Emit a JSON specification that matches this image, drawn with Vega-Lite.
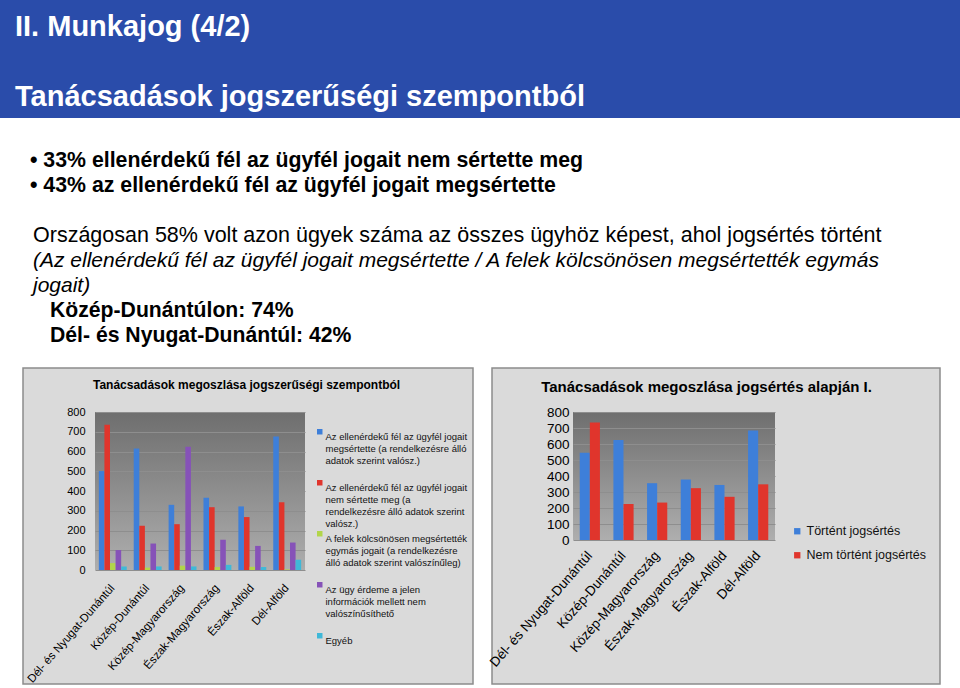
{
  "$schema": "https://vega.github.io/schema/vega-lite/v6.json",
  "padding": 0,
  "autosize": {"type": "pad"},
  "background": "white",
  "spacing": 0,
  "config": {
    "view": {"stroke": null},
    "font": "Liberation Sans",
    "style": {"guide-label": {"lineHeight": 12}}
  },
  "resolve": {"scale": {"color": "independent", "xOffset": "independent", "x": "independent", "y": "independent"}, "legend": {"color": "independent"}},
  "vconcat": [
    {
      "width": 960,
      "height": 118,
      "view": {"fill": "#2A4CAA", "stroke": null},
      "data": {"values": [
        {"line": 1, "text": "II. Munkajog (4/2)"},
        {"line": 2, "text": "Tanácsadások jogszerűségi szempontból"}
      ]},
      "mark": {"type": "text", "align": "left", "baseline": "alphabetic", "fontWeight": "bold", "fontSize": 29, "color": "white", "font": "Liberation Sans"},
      "encoding": {
        "x": {"value": 15},
        "y": {"field": "line", "type": "quantitative", "scale": {"domain": [0.486, 2.171], "reverse": true, "zero": false, "nice": false}, "axis": null},
        "text": {"field": "text"}
      }
    },
    {
      "width": 960,
      "height": 249,
      "data": {"values": [
        {"line": 1, "text": "• 33% ellenérdekű fél az ügyfél jogait nem sértette meg"},
        {"line": 2, "text": "• 43% az ellenérdekű fél az ügyfél jogait megsértette"},
        {"line": 4, "text": "Országosan 58% volt azon ügyek száma az összes ügyhöz képest, ahol jogsértés történt"},
        {"line": 5, "text": "(Az ellenérdekű fél az ügyfél jogait megsértette / A felek kölcsönösen megsértették egymás"},
        {"line": 6, "text": "jogait)"},
        {"line": 7, "text": "Közép-Dunántúlon: 74%"},
        {"line": 8, "text": "Dél- és Nyugat-Dunántúl: 42%"}
      ]},
      "encoding": {
        "y": {"field": "line", "type": "quantitative", "scale": {"domain": [-0.9545, 8.978], "reverse": true, "zero": false, "nice": false}, "axis": null},
        "text": {"field": "text"}
      },
      "layer": [
        {
          "transform": [{"filter": "datum.line <= 2"}],
          "mark": {"type": "text", "align": "left", "baseline": "alphabetic", "fontWeight": "bold", "fontSize": 21.3, "color": "black"},
          "encoding": {"x": {"value": 30}}
        },
        {
          "transform": [{"filter": "datum.line == 4"}],
          "mark": {"type": "text", "align": "left", "baseline": "alphabetic", "fontWeight": "normal", "fontSize": 21.5, "color": "black"},
          "encoding": {"x": {"value": 33}}
        },
        {
          "transform": [{"filter": "datum.line == 5 || datum.line == 6"}],
          "mark": {"type": "text", "align": "left", "baseline": "alphabetic", "fontStyle": "italic", "fontSize": 21, "color": "black"},
          "encoding": {"x": {"value": 33}}
        },
        {
          "transform": [{"filter": "datum.line >= 7"}],
          "mark": {"type": "text", "align": "left", "baseline": "alphabetic", "fontWeight": "bold", "fontSize": 21.2, "color": "black"},
          "encoding": {"x": {"value": 50}}
        }
      ]
    },
    {
      "concat": [
        {
          "spacing": 17,
          "hconcat": [
            {"width": 5, "height": 316, "data": {"values": []}, "mark": "point", "encoding": {}, "view": {"stroke": null}},
            {"width": 450, "height": 316, "data": {"values": []}, "mark": "point", "encoding": {}, "view": {"fill": "#DADADA", "stroke": "#8C8C8C", "strokeWidth": 1.5}},
            {"width": 448, "height": 316, "data": {"values": []}, "mark": "point", "encoding": {}, "view": {"fill": "#DADADA", "stroke": "#8C8C8C", "strokeWidth": 1.5}}
          ]
        },
        {
          "concat": [
            {"width": 6, "height": 10, "data": {"values": []}, "mark": "point", "encoding": {}, "view": {"stroke": null}},
            {
              "width": 210,
              "height": 158,
              "view": {"stroke": null, "fill": {"gradient": "linear", "x1": 0, "y1": 0, "x2": 0, "y2": 1, "stops": [{"offset": 0, "color": "#6E6E6E"}, {"offset": 1, "color": "#AEAEAE"}]}},
              "title": {"text": "Tanácsadások megoszlása jogszerűségi szempontból", "fontSize": 12, "fontWeight": "bold", "anchor": "middle", "frame": "bounds", "offset": 14, "color": "#000000"},
              "data": {"values": [
                {"region": "Dél- és Nyugat-Dunántúl", "series": "Az ellenérdekű fél az ügyfél jogait\nmegsértette (a rendelkezésre álló\nadatok szerint valósz.)", "value": 501},
                {"region": "Dél- és Nyugat-Dunántúl", "series": "Az ellenérdekű fél az ügyfél jogait\nnem sértette meg (a\nrendelkezésre álló adatok szerint\nvalósz.)", "value": 735},
                {"region": "Dél- és Nyugat-Dunántúl", "series": "A felek kölcsönösen megsértették\negymás jogait (a rendelkezésre\nálló adatok szerint valószínűleg)", "value": 35},
                {"region": "Dél- és Nyugat-Dunántúl", "series": "Az ügy érdeme a jelen\ninformációk mellett nem\nvalószínűsíthető", "value": 101},
                {"region": "Dél- és Nyugat-Dunántúl", "series": "Egyéb", "value": 18},
                {"region": "Közép-Dunántúl", "series": "Az ellenérdekű fél az ügyfél jogait\nmegsértette (a rendelkezésre álló\nadatok szerint valósz.)", "value": 615},
                {"region": "Közép-Dunántúl", "series": "Az ellenérdekű fél az ügyfél jogait\nnem sértette meg (a\nrendelkezésre álló adatok szerint\nvalósz.)", "value": 224},
                {"region": "Közép-Dunántúl", "series": "A felek kölcsönösen megsértették\negymás jogait (a rendelkezésre\nálló adatok szerint valószínűleg)", "value": 12},
                {"region": "Közép-Dunántúl", "series": "Az ügy érdeme a jelen\ninformációk mellett nem\nvalószínűsíthető", "value": 134},
                {"region": "Közép-Dunántúl", "series": "Egyéb", "value": 18},
                {"region": "Közép-Magyarország", "series": "Az ellenérdekű fél az ügyfél jogait\nmegsértette (a rendelkezésre álló\nadatok szerint valósz.)", "value": 330},
                {"region": "Közép-Magyarország", "series": "Az ellenérdekű fél az ügyfél jogait\nnem sértette meg (a\nrendelkezésre álló adatok szerint\nvalósz.)", "value": 232},
                {"region": "Közép-Magyarország", "series": "A felek kölcsönösen megsértették\negymás jogait (a rendelkezésre\nálló adatok szerint valószínűleg)", "value": 22},
                {"region": "Közép-Magyarország", "series": "Az ügy érdeme a jelen\ninformációk mellett nem\nvalószínűsíthető", "value": 624},
                {"region": "Közép-Magyarország", "series": "Egyéb", "value": 18},
                {"region": "Észak-Magyarország", "series": "Az ellenérdekű fél az ügyfél jogait\nmegsértette (a rendelkezésre álló\nadatok szerint valósz.)", "value": 366},
                {"region": "Észak-Magyarország", "series": "Az ellenérdekű fél az ügyfél jogait\nnem sértette meg (a\nrendelkezésre álló adatok szerint\nvalósz.)", "value": 318},
                {"region": "Észak-Magyarország", "series": "A felek kölcsönösen megsértették\negymás jogait (a rendelkezésre\nálló adatok szerint valószínűleg)", "value": 15},
                {"region": "Észak-Magyarország", "series": "Az ügy érdeme a jelen\ninformációk mellett nem\nvalószínűsíthető", "value": 153},
                {"region": "Észak-Magyarország", "series": "Egyéb", "value": 26},
                {"region": "Észak-Alföld", "series": "Az ellenérdekű fél az ügyfél jogait\nmegsértette (a rendelkezésre álló\nadatok szerint valósz.)", "value": 322},
                {"region": "Észak-Alföld", "series": "Az ellenérdekű fél az ügyfél jogait\nnem sértette meg (a\nrendelkezésre álló adatok szerint\nvalósz.)", "value": 268},
                {"region": "Észak-Alföld", "series": "A felek kölcsönösen megsértették\negymás jogait (a rendelkezésre\nálló adatok szerint valószínűleg)", "value": 16},
                {"region": "Észak-Alföld", "series": "Az ügy érdeme a jelen\ninformációk mellett nem\nvalószínűsíthető", "value": 122},
                {"region": "Észak-Alföld", "series": "Egyéb", "value": 15},
                {"region": "Dél-Alföld", "series": "Az ellenérdekű fél az ügyfél jogait\nmegsértette (a rendelkezésre álló\nadatok szerint valósz.)", "value": 676},
                {"region": "Dél-Alföld", "series": "Az ellenérdekű fél az ügyfél jogait\nnem sértette meg (a\nrendelkezésre álló adatok szerint\nvalósz.)", "value": 343},
                {"region": "Dél-Alföld", "series": "A felek kölcsönösen megsértették\negymás jogait (a rendelkezésre\nálló adatok szerint valószínűleg)", "value": 3},
                {"region": "Dél-Alföld", "series": "Az ügy érdeme a jelen\ninformációk mellett nem\nvalószínűsíthető", "value": 139},
                {"region": "Dél-Alföld", "series": "Egyéb", "value": 52}
              ]},
              "mark": {"type": "bar"},
              "encoding": {
                "x": {"field": "region", "type": "nominal", "sort": null, "scale": {"paddingInner": 0.2, "paddingOuter": 0.11}, "axis": {"title": null, "labelAngle": -49, "labelFontSize": 11.5, "ticks": false, "domain": false, "labelPadding": 16, "labelColor": "#000000"}},
                "xOffset": {"field": "series", "type": "nominal", "sort": null, "scale": {"paddingInner": 0, "paddingOuter": 0}},
                "y": {"field": "value", "type": "quantitative", "scale": {"domain": [0, 800], "nice": false}, "axis": {"title": null, "values": [0, 100, 200, 300, 400, 500, 600, 700, 800], "labelFontSize": 11, "ticks": false, "domain": false, "labelPadding": 10, "gridColor": "#8E8E8E", "labelColor": "#000000"}},
                "color": {"field": "series", "type": "nominal", "sort": null, "title": null,
                  "scale": {"range": ["#3E7FD9", "#E0352C", "#B2D54A", "#8652B8", "#3FB8D8"]},
                  "legend": {"orient": "none", "legendX": 220, "legendY": 15, "labelExpr": "split(datum.label, '\\n')", "labelFontSize": 9.5, "labelColor": "#111111", "symbolType": "square", "symbolSize": 30, "symbolStrokeWidth": 0, "gridAlign": "all", "rowPadding": 0, "labelLimit": 300, "labelOffset": 1, "labelBaseline": "top"}
                }
              }
            },
            {
              "width": 202,
              "height": 128,
              "view": {"stroke": null, "fill": {"gradient": "linear", "x1": 0, "y1": 0, "x2": 0, "y2": 1, "stops": [{"offset": 0, "color": "#6E6E6E"}, {"offset": 1, "color": "#AEAEAE"}]}},
              "title": {"text": "Tanácsadások megoszlása jogsértés alapján I.", "fontSize": 15, "fontWeight": "bold", "anchor": "middle", "frame": "bounds", "offset": 10, "color": "#000000"},
              "data": {"values": [
                {"region": "Dél- és Nyugat-Dunántúl", "series": "Történt jogsértés", "value": 545},
                {"region": "Dél- és Nyugat-Dunántúl", "series": "Nem történt jogsértés", "value": 735},
                {"region": "Közép-Dunántúl", "series": "Történt jogsértés", "value": 625},
                {"region": "Közép-Dunántúl", "series": "Nem történt jogsértés", "value": 225},
                {"region": "Közép-Magyarország", "series": "Történt jogsértés", "value": 355},
                {"region": "Közép-Magyarország", "series": "Nem történt jogsértés", "value": 234},
                {"region": "Észak-Magyarország", "series": "Történt jogsértés", "value": 378},
                {"region": "Észak-Magyarország", "series": "Nem történt jogsértés", "value": 324},
                {"region": "Észak-Alföld", "series": "Történt jogsértés", "value": 344},
                {"region": "Észak-Alföld", "series": "Nem történt jogsértés", "value": 270},
                {"region": "Dél-Alföld", "series": "Történt jogsértés", "value": 685},
                {"region": "Dél-Alföld", "series": "Nem történt jogsértés", "value": 348}
              ]},
              "mark": {"type": "bar"},
              "encoding": {
                "x": {"field": "region", "type": "nominal", "sort": null, "scale": {"paddingInner": 0.4, "paddingOuter": 0.2}, "axis": {"title": null, "labelAngle": -49, "labelFontSize": 13.5, "ticks": false, "domain": false, "labelPadding": 13, "labelColor": "#000000"}},
                "xOffset": {"field": "series", "type": "nominal", "sort": null, "scale": {"paddingInner": 0, "paddingOuter": 0}},
                "y": {"field": "value", "type": "quantitative", "scale": {"domain": [0, 800], "nice": false}, "axis": {"title": null, "values": [0, 100, 200, 300, 400, 500, 600, 700, 800], "labelFontSize": 13.5, "ticks": false, "domain": false, "labelPadding": 4, "gridColor": "#8E8E8E", "labelColor": "#000000"}},
                "color": {"field": "series", "type": "nominal", "sort": null, "title": null,
                  "scale": {"range": ["#3E7FD9", "#E0352C"]},
                  "legend": {"orient": "none", "legendX": 218, "legendY": 113, "labelFontSize": 12.5, "labelColor": "#111111", "symbolType": "square", "symbolSize": 40, "symbolStrokeWidth": 0, "rowPadding": 11, "labelLimit": 300, "labelOffset": 3}
                }
              }
            }
          ],
          "columns": 3,
          "align": "none",
          "spacing": 19,
          "resolve": {"scale": {"color": "independent", "xOffset": "independent", "x": "independent", "y": "independent"}, "legend": {"color": "independent"}}
        }
      ],
      "columns": 1,
      "align": "none",
      "spacing": -306,
      "resolve": {"scale": {"color": "independent", "xOffset": "independent", "x": "independent", "y": "independent"}, "legend": {"color": "independent"}}
    }
  ]
}
